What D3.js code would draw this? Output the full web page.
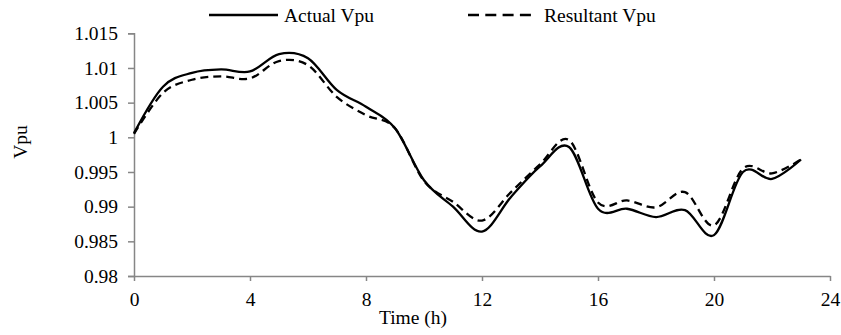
<!DOCTYPE html>
<html>
<head>
<meta charset="utf-8">
<script src="https://cdn.jsdelivr.net/npm/d3@7"></script>
<style>
  body { margin: 0; background: #fff; }
  svg { display: block; }
  text { font-family: "Liberation Serif", "Times New Roman", serif; fill: #000; }
</style>
</head>
<body>
<svg id="chart" width="841" height="335"></svg>
<script>
const hours = [0,1,2,3,4,5,6,7,8,9,10,11,12,13,14,15,16,17,18,19,20,21,22,23];
const actualVpu = [1.0006,1.0073,1.0093,1.0098,1.0095,1.0120,1.0114,1.0068,1.0044,1.0013,0.9938,0.9900,0.9864,0.9914,0.9958,0.9986,0.9897,0.9897,0.9885,0.9895,0.9859,0.9950,0.9940,0.9968];
const resultantVpu = [1.0005,1.0064,1.0083,1.0088,1.0085,1.0110,1.0104,1.0058,1.0032,1.0013,0.9937,0.9907,0.9880,0.9921,0.9961,0.9996,0.9906,0.9909,0.9899,0.9921,0.9873,0.9955,0.9948,0.9968];
const xTicks = [0,4,8,12,16,20,24];
const yTicks = [0.98,0.985,0.99,0.995,1,1.005,1.01,1.015];
const yTickLabels = ["0.98","0.985","0.99","0.995","1","1.005","1.01","1.015"];
const seriesNames = ["Actual Vpu","Resultant Vpu"];

(function(){
const svg = d3.select("#chart");
const mLeft = 134, mRight = 830, mTop = 33.3, mBottom = 276;
const x = d3.scaleLinear().domain([0,24]).range([mLeft,mRight]);
const y = d3.scaleLinear().domain([0.98,1.015]).range([mBottom,mTop]);
const axisColor = "#868686";
const fs = 19.5;
const ff = "Liberation Serif";

// Y axis
const yAxis = svg.append("g").attr("transform",`translate(${mLeft},0)`)
  .call(d3.axisLeft(y).tickValues(yTicks).tickSize(6).tickPadding(10)
        .tickFormat((d,i)=>yTickLabels[i]));
yAxis.attr("font-family",ff);
yAxis.select(".domain").attr("stroke",axisColor).attr("stroke-width",1.5);
yAxis.selectAll(".tick line").attr("stroke",axisColor).attr("stroke-width",1.5);
yAxis.selectAll(".tick text").attr("font-size",fs).attr("font-family",ff).attr("fill","#000");

// X axis
const xAxis = svg.append("g").attr("transform",`translate(0,${mBottom})`)
  .call(d3.axisBottom(x).tickValues(xTicks).tickSize(5).tickSizeOuter(0).tickPadding(11)
        .tickFormat(d3.format("d")));
xAxis.attr("font-family",ff);
xAxis.select(".domain").attr("stroke",axisColor).attr("stroke-width",1.5);
xAxis.selectAll(".tick line").attr("stroke",axisColor).attr("stroke-width",1.5);
xAxis.selectAll(".tick text").attr("font-size",fs).attr("font-family",ff).attr("fill","#000");

// Lines
const line = d3.line().x((d,i)=>x(hours[i])).y(d=>y(d)).curve(d3.curveCatmullRom.alpha(0));
svg.append("path").datum(resultantVpu).attr("d",line)
  .attr("fill","none").attr("stroke","#000").attr("stroke-width",2.3).attr("stroke-dasharray","8,5");
svg.append("path").datum(actualVpu).attr("d",line)
  .attr("fill","none").attr("stroke","#000").attr("stroke-width",2.3);

// Legend
const lg = svg.append("g");
lg.append("line").attr("x1",209).attr("x2",278).attr("y1",15).attr("y2",15)
  .attr("stroke","#000").attr("stroke-width",2.3);
lg.append("text").attr("x",284).attr("y",21.5).attr("font-size",fs).attr("font-family",ff).text(seriesNames[0]);
lg.append("line").attr("x1",468).attr("x2",531).attr("y1",15).attr("y2",15)
  .attr("stroke","#000").attr("stroke-width",2.3).attr("stroke-dasharray","11,6.3");
lg.append("text").attr("x",544).attr("y",21.5).attr("font-size",fs).attr("font-family",ff).text(seriesNames[1]);

// Axis titles
svg.append("text").attr("x",413).attr("y",324).attr("text-anchor","middle")
  .attr("font-size",fs).attr("font-family",ff).text("Time (h)");
svg.append("text").attr("transform","translate(27,142) rotate(-90)")
  .attr("text-anchor","middle").attr("font-size",fs).attr("font-family",ff).text("Vpu");
})();
</script>
</body>
</html>
